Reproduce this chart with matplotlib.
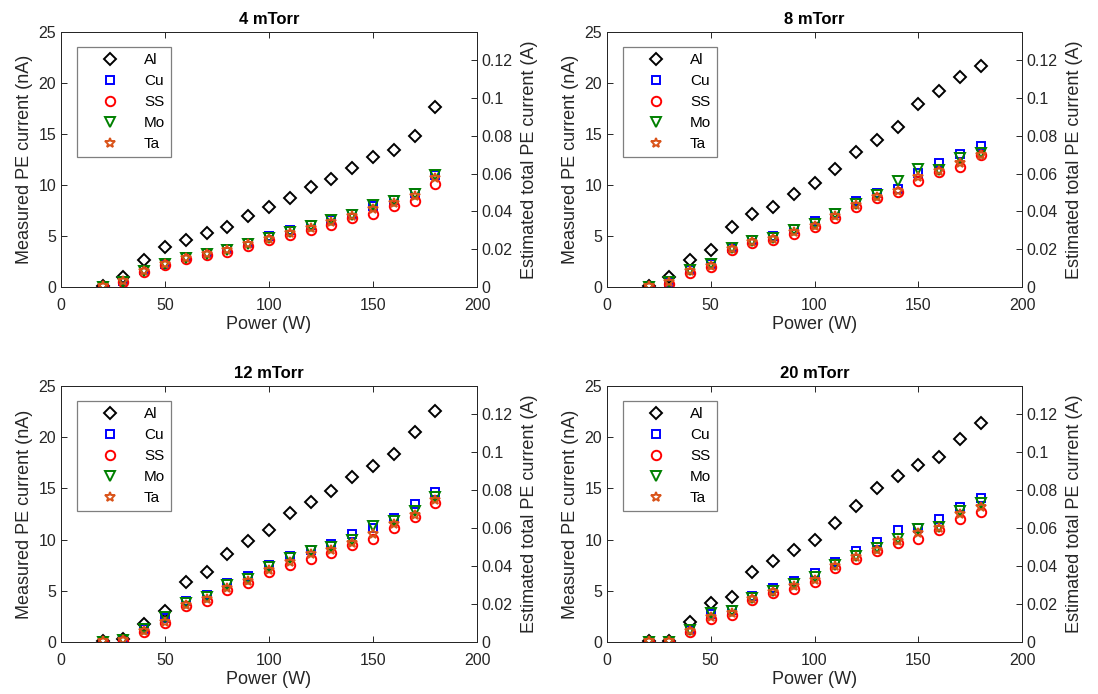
# PE current vs RF power for five target materials at four pressures
import matplotlib
matplotlib.use('Agg')
import matplotlib.pyplot as plt
from matplotlib.ticker import FormatStrFormatter

plt.rcParams['font.family'] = ['Liberation Sans', 'DejaVu Sans']

power = [20, 30, 40, 50, 60, 70, 80, 90, 100, 110, 120, 130, 140, 150, 160, 170, 180]
materials = ['Al', 'Cu', 'SS', 'Mo', 'Ta']
pressures = ['4 mTorr', '8 mTorr', '12 mTorr', '20 mTorr']

# measured PE current (nA)
al_4 = [0.1, 1.0, 2.6, 3.9, 4.6, 5.3, 5.9, 7.0, 7.8, 8.75, 9.8, 10.6, 11.7, 12.7, 13.4, 14.8, 17.6]
cu_4 = [0.1, 0.6, 1.7, 2.3, 2.9, 3.3, 3.7, 4.3, 5.0, 5.6, 6.1, 6.6, 7.2, 7.9, 8.5, 9.2, 11.0]
ss_4 = [0.1, 0.5, 1.5, 2.2, 2.7, 3.1, 3.4, 4.0, 4.6, 5.1, 5.6, 6.1, 6.8, 7.2, 7.9, 8.4, 10.1]
mo_4 = [0.0, 0.5, 1.6, 2.3, 2.8, 3.2, 3.6, 4.2, 4.8, 5.4, 6.0, 6.6, 7.1, 8.0, 8.4, 9.1, 11.0]
ta_4 = [0.1, 0.6, 1.6, 2.3, 2.8, 3.2, 3.6, 4.2, 4.7, 5.3, 5.8, 6.4, 7.0, 7.6, 8.2, 8.9, 10.7]

al_8 = [0.1, 1.0, 2.6, 3.6, 5.9, 7.2, 7.8, 9.1, 10.2, 11.6, 13.2, 14.4, 15.7, 17.9, 19.2, 20.6, 21.7]
cu_8 = [0.1, 0.5, 1.7, 2.3, 3.8, 4.6, 5.0, 5.7, 6.5, 7.3, 8.4, 9.2, 9.6, 11.2, 12.2, 13.0, 13.8]
ss_8 = [0.0, 0.3, 1.4, 2.0, 3.6, 4.3, 4.6, 5.2, 5.9, 6.8, 7.8, 8.7, 9.3, 10.4, 11.3, 11.8, 12.9]
mo_8 = [0.0, 0.5, 1.7, 2.3, 3.8, 4.5, 4.8, 5.6, 6.2, 7.2, 8.1, 9.0, 10.4, 11.6, 11.5, 12.6, 13.1]
ta_8 = [0.1, 0.5, 1.6, 2.1, 3.7, 4.4, 4.7, 5.4, 6.0, 7.0, 8.0, 8.8, 9.4, 10.8, 11.4, 12.2, 12.9]

al_12 = [0.1, 0.3, 1.8, 3.0, 5.9, 6.8, 8.6, 9.9, 10.9, 12.6, 13.7, 14.7, 16.1, 17.2, 18.4, 20.5, 22.6]
cu_12 = [0.1, 0.2, 1.3, 2.3, 4.0, 4.6, 5.8, 6.4, 7.5, 8.4, 9.0, 9.6, 10.5, 11.1, 12.1, 13.5, 14.6]
ss_12 = [0.0, 0.1, 1.0, 1.9, 3.5, 4.0, 5.1, 5.8, 6.8, 7.5, 8.1, 8.7, 9.5, 10.1, 11.1, 12.2, 13.6]
mo_12 = [0.0, 0.2, 1.3, 2.4, 3.8, 4.4, 5.6, 6.2, 7.3, 8.2, 8.9, 9.3, 10.0, 11.3, 11.8, 12.8, 14.2]
ta_12 = [0.1, 0.2, 1.1, 2.0, 3.6, 4.2, 5.3, 6.0, 7.0, 7.8, 8.6, 9.0, 9.7, 10.5, 11.5, 12.4, 13.9]

al_20 = [0.1, 0.1, 1.95, 3.8, 4.4, 6.8, 7.9, 9.0, 10.0, 11.6, 13.3, 15.0, 16.2, 17.3, 18.1, 19.8, 21.4]
cu_20 = [0.1, 0.1, 1.2, 2.7, 3.1, 4.5, 5.3, 6.0, 6.7, 7.8, 8.9, 9.8, 10.9, 11.1, 12.0, 13.2, 14.1]
ss_20 = [0.0, 0.0, 1.0, 2.2, 2.6, 4.1, 4.8, 5.2, 5.9, 7.2, 8.1, 8.9, 9.7, 10.1, 10.9, 12.0, 12.7]
mo_20 = [0.0, 0.0, 1.2, 2.8, 3.0, 4.3, 5.0, 5.7, 6.3, 7.5, 8.4, 9.2, 10.1, 11.0, 11.2, 12.8, 13.6]
ta_20 = [0.1, 0.1, 1.1, 2.4, 2.8, 4.2, 4.9, 5.5, 6.1, 7.4, 8.3, 9.0, 9.9, 10.6, 11.1, 12.5, 13.2]

panels = [
    [al_4, cu_4, ss_4, mo_4, ta_4],
    [al_8, cu_8, ss_8, mo_8, ta_8],
    [al_12, cu_12, ss_12, mo_12, ta_12],
    [al_20, cu_20, ss_20, mo_20, ta_20],
]

# marker style per material (MATLAB-like open markers)
styles = [
    dict(marker='D', color='black', ms=6.3),
    dict(marker='s', color='#0000FF', ms=6.3),
    dict(marker='o', color='#FF0000', ms=6.8),
    dict(marker='v', color='#008000', ms=7.2),
    dict(marker='*', color='#D95319', ms=7.2),
]

axis_col = '#262626'
W, H = 1098, 694
fig = plt.figure(figsize=(W / 100, H / 100), dpi=100)

# axes boxes in pixels: left, top, right, bottom
boxes = [(61, 32, 477, 287), (607, 32, 1022, 287),
         (61, 386, 477, 642), (607, 386, 1022, 642)]

for box, title, series in zip(boxes, pressures, panels):
    l, t, r, b = box
    ax = fig.add_axes([l / W, 1 - b / H, (r - l) / W, (b - t) / H])
    for name, vals, st in zip(materials, series, styles):
        ax.plot(power, vals, linestyle='none', marker=st['marker'], ms=st['ms'],
                mfc='none', mec=st['color'], mew=1.4, label=name)

    ax.set_xlim(0, 200)
    ax.set_ylim(0, 25)
    ax.set_xticks([0, 50, 100, 150, 200])
    ax.set_yticks([0, 5, 10, 15, 20, 25])
    ax.set_xlabel('Power (W)', fontsize=13, color=axis_col, labelpad=2)
    ax.set_ylabel('Measured PE current (nA)', fontsize=13, color=axis_col, labelpad=4)
    ax.set_title(title, fontsize=12, fontweight='bold', color='black', pad=6)
    ax.tick_params(direction='in', length=4, width=0.7, colors=axis_col, labelsize=11.5,
                   top=True, right=False)
    ax.tick_params(axis='x', pad=8)
    for sp in ax.spines.values():
        sp.set_color(axis_col)
        sp.set_linewidth(0.7)

    leg = ax.legend(loc='upper left', bbox_to_anchor=(0.038, 0.94), fontsize=11,
                    handlelength=3.6, handletextpad=0.4, borderpad=0.4,
                    labelspacing=0.45, fancybox=False, framealpha=1,
                    edgecolor='#7f7f7f', borderaxespad=0)
    leg.get_frame().set_linewidth(0.9)

    # right axis: estimated total PE current
    ax2 = ax.twinx()
    ax2.set_ylim(0, 0.135)
    ax2.set_yticks([0, 0.02, 0.04, 0.06, 0.08, 0.1, 0.12])
    ax2.yaxis.set_major_formatter(FormatStrFormatter('%g'))
    ax2.set_ylabel('Estimated total PE current (A)', fontsize=13, color=axis_col, labelpad=6)
    ax2.tick_params(direction='in', length=4, width=0.7, colors=axis_col, labelsize=11.5)
    for sp in ax2.spines.values():
        sp.set_color(axis_col)
        sp.set_linewidth(0.7)

fig.savefig('out.png', dpi=100)
